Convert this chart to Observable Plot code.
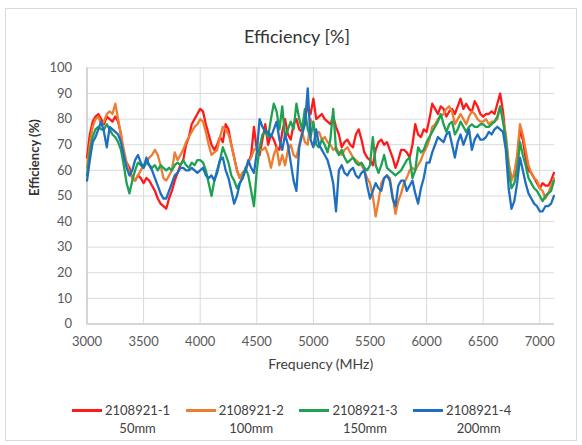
<!DOCTYPE html>
<html>
<head>
<meta charset="utf-8">
<script src="https://cdn.jsdelivr.net/npm/d3@7"></script>
<script src="https://cdn.jsdelivr.net/npm/@observablehq/plot@0.6"></script>
<style>
  html, body { margin: 0; padding: 0; background: #fff; }
  #chart { position: relative; width: 582px; height: 445px; font-family: Lato, "Open Sans", sans-serif; }
  #frame { position: absolute; left: 5px; top: 8px; width: 572px; height: 433px; border: 1px solid #d9d9d9; box-sizing: border-box; }
  #title { position: absolute; left: 0; width: 594px; top: 25px; text-align: center; font-size: 18px; color: #333; }
  #plot { position: absolute; left: 0; top: 50px; }
  .item { position: absolute; top: 401px; display: flex; align-items: flex-start; }
  .swatch { width: 30px; height: 3px; margin-top: 8px; }
  .label { margin-left: 3px; font-size: 13px; line-height: 18px; color: #404040; text-align: center; }
</style>
</head>
<body>
<div id="chart">
  <div id="frame"></div>
  <div id="title">Efficiency [%]</div>
  <div id="plot"></div>
</div>
<script>
// Measurement grid: 3000–7125 MHz in 25 MHz steps
const freq = d3.range(3000, 7126, 25);

const seriesNames = ["2108921-1", "2108921-2", "2108921-3", "2108921-4"];
const seriesNotes = ["50mm", "100mm", "150mm", "200mm"];
const seriesColors = ["#ff1a1a", "#ed7d31", "#1ea152", "#1f6fc0"];

const xTicks = [3000, 3500, 4000, 4500, 5000, 5500, 6000, 6500, 7000];
const yTicks = [0, 10, 20, 30, 40, 50, 60, 70, 80, 90, 100];

// Efficiency (%) per sample, one array per antenna
const eff1 = [
  65,74,79,81, 82,80,78,81, 80,79,81,79, 74,65,63,61, 57,56,58,57, 55,57,56,54,
  52,49,47,46, 45,49,52,56, 59,62,64,70, 73,78,80,82, 84,83,78,74, 70,68,70,73,
  71,78,76,70, 65,60,57,59, 60,63,66,77, 68,66,72,78, 70,74,72,69, 68,75,80,74,
  72,78,80,76, 75,80,85,82, 88,80,81,82, 80,79,78,81, 77,74,69,71, 72,70,69,74,
  76,72,67,65, 64,62,68,71, 72,70,71,68, 65,61,64,68, 68,67,65,70, 78,74,73,76,
  75,80,86,84, 82,85,84,81, 83,84,82,85, 88,84,86,84, 83,87,85,82, 81,82,82,83,
  82,86,90,83, 72,62,57,58, 64,76,72,65, 60,59,57,55, 53,55,54,54, 56,59
];
const eff2 = [
  61,70,77,80, 81,78,79,82, 83,82,86,80, 74,68,63,59, 57,56,58,60, 62,63,65,66,
  68,66,62,57, 56,58,60,67, 64,66,68,71, 73,75,77,78, 80,79,75,70, 66,67,68,73,
  77,76,74,70, 65,60,57,59, 60,63,65,68, 69,68,68,69, 66,61,66,69, 62,66,62,68,
  70,66,65,70, 75,71,70,80, 77,74,75,72, 73,71,70,68, 69,67,66,68, 69,67,65,64,
  63,62,60,57, 55,50,42,48, 55,57,58,57, 50,43,48,51, 55,57,60,61, 60,62,64,67,
  69,72,77,78, 80,81,82,84, 85,83,78,80, 82,80,78,81, 83,82,80,79, 79,80,78,79,
  79,80,85,80, 74,63,56,59, 66,78,74,68, 62,59,57,56, 53,52,49,51, 54,57
];
const eff3 = [
  58,67,73,76, 77,76,76,78, 76,74,73,71, 68,62,55,51, 56,60,63,62, 61,63,62,61,
  62,60,62,61, 60,61,60,62, 63,62,64,62, 61,63,62,64, 64,63,60,55, 50,56,59,64,
  69,66,63,58, 56,53,55,57, 61,58,52,46, 60,69,74,75, 73,80,86,83, 76,85,73,76,
  79,76,86,80, 76,84,76,73, 79,70,69,72, 70,67,72,84, 68,66,68,65, 63,64,65,63,
  62,63,61,60, 62,73,62,59, 62,66,61,60, 59,58,59,60, 62,64,65,57, 60,69,67,68,
  71,73,75,77, 79,82,78,75, 78,79,74,76, 79,77,75,77, 78,77,77,78, 78,77,77,78,
  79,81,85,79, 72,60,53,55, 60,71,66,62, 57,55,53,52, 50,48,50,51, 52,56
];
const eff4 = [
  56,64,71,73, 76,79,75,69, 77,76,75,74, 71,66,61,58, 60,64,66,63, 61,65,62,60,
  57,54,51,49, 49,52,55,58, 59,61,61,60, 60,61,60,59, 60,61,58,57, 58,56,60,64,
  65,60,57,52, 47,50,55,57, 60,64,61,59, 67,80,77,75, 75,73,76,79, 72,68,74,70,
  63,56,52,69, 74,78,92,72, 69,76,70,68, 66,64,60,55, 44,60,62,59, 58,60,61,58,
  57,59,60,54, 49,52,55,53, 52,57,58,56, 49,46,54,56, 56,52,54,56, 51,47,53,57,
  63,63,67,70, 73,72,71,74, 75,70,65,71, 74,70,73,76, 68,72,74,72, 72,73,75,74,
  76,77,76,75, 68,53,45,48, 55,65,60,55, 51,49,47,46, 44,44,46,46, 47,50
];

const rows = [eff1, eff2, eff3, eff4].flatMap((vals, s) =>
  vals.map((v, i) => ({ f: freq[i], v, s: seriesNames[s] }))
);

const font = "Lato, 'Open Sans', sans-serif";

const chart = Plot.plot({
  width: 582,
  height: 335,
  marginLeft: 86.5,
  marginRight: 28,
  marginTop: 17.4,
  marginBottom: 61.5,
  style: { fontFamily: font, fontSize: "13px", color: "#595959", background: "transparent" },
  x: { domain: [3000, 7130], label: null },
  y: { domain: [0, 100], label: null },
  color: { domain: seriesNames, range: seriesColors },
  marks: [
    Plot.gridX(xTicks, { stroke: "#d9d9d9", strokeOpacity: 1 }),
    Plot.gridY(yTicks, { stroke: "#d9d9d9", strokeOpacity: 1 }),
    Plot.ruleY([0], { stroke: "#bfbfbf" }),
    Plot.ruleX([3000], { stroke: "#bfbfbf" }),
    Plot.axisX(xTicks, { tickSize: 0, tickPadding: 13, tickFormat: d => String(d), fill: "#595959" }),
    Plot.axisY(yTicks, { tickSize: 0, tickPadding: 15, fill: "#595959" }),
    Plot.line(rows, { x: "f", y: "v", z: "s", stroke: "s", strokeWidth: 2.3, strokeLinejoin: "round" }),
    Plot.text(["Frequency (MHz)"], { text: d => d, frameAnchor: "bottom", dy: 45, fill: "#404040", fontSize: 14 }),
    Plot.text(["Efficiency (%)"], { text: d => d, frameAnchor: "left", dx: -52, rotate: -90, fill: "#333", fontSize: 13, fontWeight: "bold" })
  ]
});
document.getElementById("plot").appendChild(chart);

// Legend below the plot: coloured segment plus two-line label
const host = document.getElementById("chart");
seriesNames.forEach((name, i) => {
  const item = document.createElement("div");
  item.className = "item";
  item.style.left = (72 + i * 113.7) + "px";
  const sw = document.createElement("div");
  sw.className = "swatch";
  sw.style.background = seriesColors[i];
  const lab = document.createElement("div");
  lab.className = "label";
  lab.innerHTML = name + "<br>" + seriesNotes[i];
  item.appendChild(sw);
  item.appendChild(lab);
  host.appendChild(item);
});
</script>
</body>
</html>
